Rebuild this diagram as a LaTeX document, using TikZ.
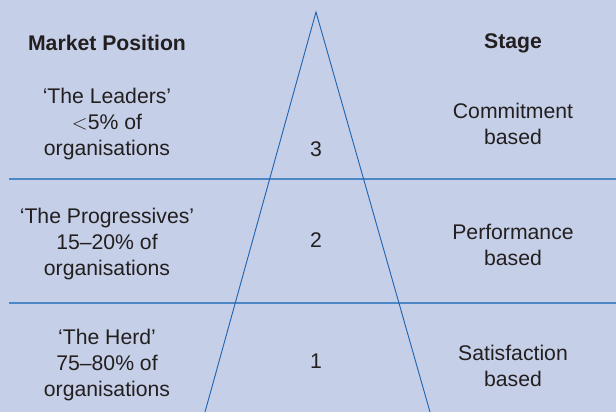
\documentclass[tikz,border=0pt]{standalone}
\usepackage{fontspec}
\setmainfont{Liberation Sans}
\usetikzlibrary{positioning}
\definecolor{panelbg}{HTML}{C5CFE7}
\definecolor{triblue}{HTML}{1F63B0}
\definecolor{rowline}{HTML}{4C87C6}
\definecolor{inkgray}{HTML}{231F20}

\tikzset{
  celltext/.style={font=\fontsize{21.2}{26}\selectfont, text=inkgray, align=center, inner sep=0pt},
  headtext/.style={celltext, font=\fontsize{21.2}{26}\selectfont\bfseries},
}

\begin{document}
\begin{tikzpicture}[x=1pt, y=-1pt]

% Background
\fill[panelbg] (0,0) rectangle (616,412);
\useasboundingbox (0,0) rectangle (616,412);

% Row separators
\draw[rowline, line width=1.4pt] (9,179) -- (616,179);
\draw[rowline, line width=1.4pt] (9,303) -- (616,303);

% Triangle
\coordinate (apex) at (316,12);
\coordinate (baseL) at (205,412);
\coordinate (baseR) at (430,412);
\draw[triblue, line width=0.9pt] (baseL) -- (apex) -- (baseR);

% Headings
\node[headtext] (hdpos) at (107,43) {Market Position};
\node[headtext] (hdstage) at (513,43) {Stage};

% Left column
\node[celltext] (leaders) at (107,124) {`The Leaders'\\$<$5\% of\\organisations};
\node[celltext] (progress) at (107,244.5) {`The Progressives'\\15--20\% of\\organisations};
\node[celltext] (herd) at (107,365) {`The Herd'\\75--80\% of\\organisations};

% Stage numbers
\node[celltext] (lvthree) at (316,149) {3};
\node[celltext] (lvtwo) at (316,240) {2};
\node[celltext] (lvone) at (316,361) {1};

% Right column
\node[celltext] (commit) at (513,123.5) {Commitment\\based};
\node[celltext] (perform) at (513,245) {Performance\\based};
\node[celltext] (satisfy) at (513,366) {Satisfaction\\based};

\end{tikzpicture}
\end{document}
